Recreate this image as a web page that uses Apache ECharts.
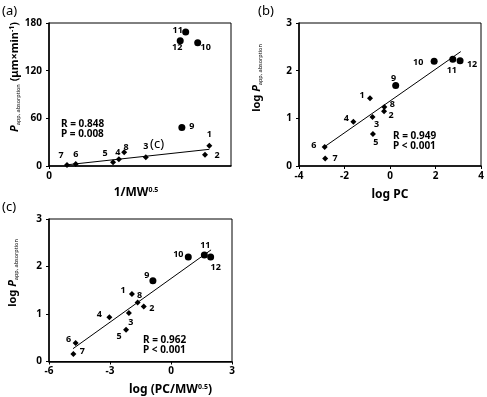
<!DOCTYPE html>
<html>
<head>
<meta charset="utf-8">
<script src="https://cdn.jsdelivr.net/npm/echarts@6/dist/echarts.min.js"></script>
<style>
  html, body { margin: 0; padding: 0; background: #fff; }
  #chart { width: 487px; height: 397px; }
</style>
</head>
<body>
<div id="chart"></div>
<script>
// compound numbers, 1-8 drawn as diamonds, 9-12 as circles
var ids = ['1','2','3','4','5','6','7','8','9','10','11','12'];

// (a) P_app vs 1/MW^0.5
var aX = [0.0881, 0.0857, 0.0532, 0.0384, 0.0352, 0.0147, 0.0099, 0.0413, 0.0730, 0.0817, 0.0751, 0.0721];
var aY = [25.6, 14.3, 11, 8.4, 4.6, 2.5, 1.3, 17.2, 48.5, 155, 168.7, 157.8];
var aFitX = [0.0099, 0.0881];
var aFitY = [1.5, 21];

// (b) log P_app vs log PC
var bX = [-0.88, -0.26, -0.77, -1.61, -0.75, -2.87, -2.85, -0.25, 0.25, 1.94, 2.76, 3.08];
var bY = [1.42, 1.15, 1.03, 0.93, 0.67, 0.40, 0.155, 1.24, 1.69, 2.20, 2.24, 2.21];
var bFitX = [-2.92, 3.11];
var bFitY = [0.39, 2.40];

// (c) log P_app vs log (PC/MW^0.5)
var cX = [-1.92, -1.34, -2.07, -3.03, -2.21, -4.69, -4.80, -1.64, -0.89, 0.85, 1.64, 1.95];
var cY = [1.42, 1.16, 1.02, 0.93, 0.67, 0.39, 0.16, 1.24, 1.70, 2.20, 2.24, 2.20];
var cFitX = [-4.82, 1.97];
var cFitY = [0.27, 2.35];

var stats = ['R = 0.848\nP = 0.008', 'R = 0.949\nP < 0.001', 'R = 0.962\nP < 0.001'];

// label nudges (px) from each point, per panel
var offA = [[0,-11],[12,1],[0,-11],[-1,-7],[-8,-9],[0,-10],[-6,-10],[2,-5],[10,-1],[8,5],[-8,-2],[-3,7]];
var offB = [[-8,-3],[7,4],[4,8],[-7,-3],[3,8],[-11,-1],[10,0],[8,-2],[-2,-7],[-16,1],[-1,11],[12,4]];
var offC = [[-9,-4],[8,2],[2,9],[-10,-3],[-7,7],[-7,-4],[9,-2],[2,-7],[-6,-5],[-10,-3],[1,-10],[5,10]];

var FONT = 'Noto Sans';

function pts(xs, ys, offs, from, to) {
  var out = [];
  for (var i = from; i < to; i++) {
    out.push({ value: [xs[i], ys[i]], name: ids[i], label: { offset: offs[i] } });
  }
  return out;
}

function panelSeries(k, xs, ys, offs, fx, fy) {
  var lbl = { show: true, position: 'inside', formatter: '{b}', color: '#000',
              fontFamily: FONT, fontWeight: 'bold', fontSize: 9 };
  return [
    { type: 'line', xAxisIndex: k, yAxisIndex: k, data: [[fx[0], fy[0]], [fx[1], fy[1]]],
      symbol: 'none', lineStyle: { color: '#000', width: 1 }, silent: true, z: 1 },
    { type: 'scatter', xAxisIndex: k, yAxisIndex: k, data: pts(xs, ys, offs, 0, 8),
      symbol: 'diamond', symbolSize: 6, itemStyle: { color: '#000', opacity: 1 }, label: lbl, z: 3 },
    { type: 'scatter', xAxisIndex: k, yAxisIndex: k, data: pts(xs, ys, offs, 8, 12),
      symbol: 'circle', symbolSize: 7, itemStyle: { color: '#000', opacity: 1 }, label: lbl, z: 3 }
  ];
}

var tickLbl = { color: '#000', fontFamily: FONT, fontWeight: 'bold', fontSize: 10 };
function richSet(big, small) {
  return {
    i: { fontFamily: FONT, fontWeight: 'bold', fontStyle: 'italic', fontSize: big, fill: '#000', color: '#000' },
    s: { fontFamily: FONT, fontSize: small, fill: '#000', color: '#000', verticalAlign: 'bottom', padding: [6, 0, 0, 0] },
    n: { fontFamily: FONT, fontWeight: 'bold', fontSize: big, fill: '#000', color: '#000' },
    sup: { fontFamily: FONT, fontWeight: 'bold', fontSize: 7, fill: '#000', color: '#000', verticalAlign: 'top', padding: [0, 0, 6, 0] }
  };
}
var nameStyle = { color: '#000', fontFamily: FONT, fontWeight: 'bold', fontSize: 12, rich: richSet(12, 6) };
var yRich = richSet(11, 5.5);

function xAxis(k, min, max, interval, name, gap, pad, custom) {
  var ax = {
    type: 'value', gridIndex: k, min: min, max: max, interval: interval,
    splitLine: { show: false },
    axisLine: { onZero: false, lineStyle: { color: '#000', width: 1.5 } },
    axisTick: { inside: false, length: 3, lineStyle: { color: '#000' } },
    axisLabel: Object.assign({ margin: 5 }, tickLbl),
    name: name, nameLocation: 'middle', nameGap: gap,
    nameTextStyle: Object.assign({}, nameStyle, { padding: pad })
  };
  if (custom) {
    ax.axisTick.customValues = custom;
    ax.axisLabel.customValues = custom;
  }
  return ax;
}

function yAxis(k, max, interval) {
  return {
    type: 'value', gridIndex: k, min: 0, max: max, interval: interval,
    splitLine: { show: false },
    axisLine: { onZero: false, lineStyle: { color: '#000', width: 1.5 } },
    axisTick: { inside: false, length: 3, lineStyle: { color: '#000' } },
    axisLabel: Object.assign({ margin: 7 }, tickLbl)
  };
}

function yTitle(cx, cy, text) {
  return { type: 'text', x: cx, y: cy, rotation: Math.PI / 2,
    style: { text: text, align: 'center', verticalAlign: 'middle', rich: yRich,
             fontFamily: FONT, fontWeight: 'bold', fontSize: 11, fill: '#000' } };
}

var gridBox = { show: true, borderColor: '#000', borderWidth: 1, backgroundColor: 'transparent' };

var chart = echarts.init(document.getElementById('chart'), null, { renderer: 'canvas' });

chart.setOption({
  backgroundColor: '#fff',
  animation: false,
  grid: [
    Object.assign({ left: 49, top: 23, width: 182, height: 143 }, gridBox),
    Object.assign({ left: 299, top: 23, width: 182, height: 143 }, gridBox),
    Object.assign({ left: 49, top: 219, width: 183, height: 143 }, gridBox)
  ],
  xAxis: [
    xAxis(0, 0, 0.1, 0.1, '1/MW{sup|0.5}', 20, [0, 8, 0, 0], [0]),
    xAxis(1, -4, 4, 2, 'log PC', 23, [0, 0, 0, 0]),
    xAxis(2, -6, 3, 3, 'log (PC/MW{sup|0.5})', 22, [0, 0, 0, 60])
  ],
  yAxis: [yAxis(0, 180, 60), yAxis(1, 3, 1), yAxis(2, 3, 1)],
  series: [].concat(
    panelSeries(0, aX, aY, offA, aFitX, aFitY),
    panelSeries(1, bX, bY, offB, bFitX, bFitY),
    panelSeries(2, cX, cY, offC, cFitX, cFitY)
  ),
  graphic: [
    yTitle(15, 77, '{i|P}{s|app, absorption}{n| (μm×min}{sup|-1}{n|)}'),
    yTitle(257, 78, '{n|log }{i|P}{s|app, absorption}'),
    yTitle(13, 273, '{n|log }{i|P}{s|app, absorption}'),
    { type: 'text', left: 2, top: 5, style: { text: '(a)', fontFamily: FONT, fontSize: 13, fill: '#000' } },
    { type: 'text', left: 258, top: 5, style: { text: '(b)', fontFamily: FONT, fontSize: 13, fill: '#000' } },
    { type: 'text', left: 2, top: 201, style: { text: '(c)', fontFamily: FONT, fontSize: 13, fill: '#000' } },
    { type: 'text', left: 150, top: 138, style: { text: '(c)', fontFamily: FONT, fontSize: 13, fill: '#000' } },
    { type: 'text', left: 61, top: 119, style: { text: stats[0], fontFamily: FONT, fontWeight: 'bold', fontSize: 10, lineHeight: 10, fill: '#000' } },
    { type: 'text', left: 393, top: 131, style: { text: stats[1], fontFamily: FONT, fontWeight: 'bold', fontSize: 10, lineHeight: 10, fill: '#000' } },
    { type: 'text', left: 143, top: 335, style: { text: stats[2], fontFamily: FONT, fontWeight: 'bold', fontSize: 10, lineHeight: 10, fill: '#000' } }
  ]
});
</script>
</body>
</html>
